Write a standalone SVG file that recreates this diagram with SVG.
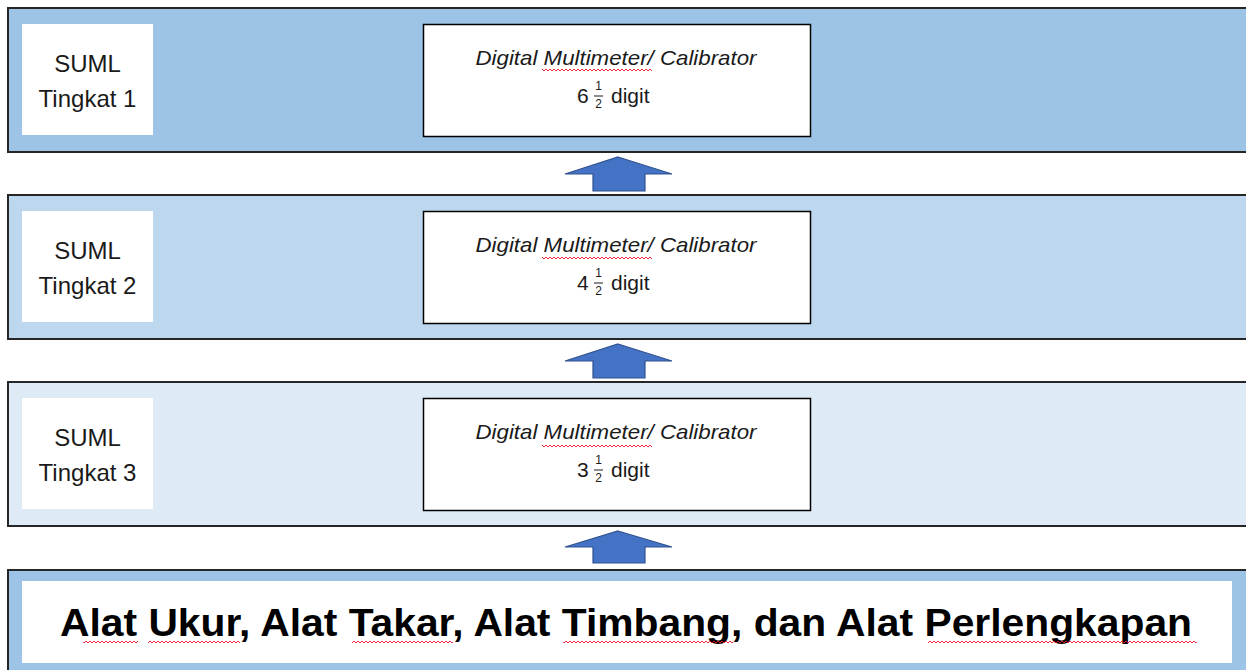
<svg xmlns="http://www.w3.org/2000/svg" width="1246" height="670" viewBox="0 0 1246 670">
  <style>
    .band { stroke: #262626; stroke-width: 2; }
    .lvl1 { fill: #9dc3e6; }
    .lvl2 { fill: #bdd7ee; }
    .lvl3 { fill: #deebf7; }
    .label { fill: #ffffff; }
    .card { fill: #ffffff; stroke: #000000; stroke-width: 1.5; }
    .t { font-family: "Liberation Sans", Arial, sans-serif; fill: #1a1a1a; }
    .suml { font-size: 24px; text-anchor: middle; }
    .dev { font-size: 21px; font-style: italic; text-anchor: middle; }
    .num { font-size: 21px; }
    .frac { font-size: 12px; text-anchor: middle; }
    .base { font-size: 38px; font-weight: bold; text-anchor: middle; fill: #000000; }
    .arrow { fill: #4472c4; stroke: #2f528f; stroke-width: 1.2; }
    .wave { fill: url(#squiggle); }
  </style>
  <defs>
    <pattern id="squiggle" patternUnits="userSpaceOnUse" x="0" y="0" width="4" height="4">
      <path d="M0,3 L2,1 L4,3" fill="none" stroke="#e81123" stroke-width="0.9"/>
    </pattern>
  </defs>

  <rect width="1246" height="670" fill="#ffffff"/>

  <!-- Level 1 -->
  <g id="suml-tingkat-1">
    <rect class="band lvl1" x="8" y="8" width="1250" height="144"/>
    <rect class="label" x="22" y="24" width="131" height="111"/>
    <text class="t suml" x="87.5" y="72">SUML</text>
    <text class="t suml" x="87.5" y="107">Tingkat 1</text>
    <rect class="card" x="423.5" y="24.5" width="387" height="112"/>
    <text class="t dev" x="616" y="65" textLength="281" lengthAdjust="spacingAndGlyphs">Digital Multimeter/ Calibrator</text>
    <rect class="wave" x="542" y="68" width="110" height="4"/>
    <text class="t num" x="577" y="103">6</text>
    <text class="t frac" x="598.5" y="90">1</text>
    <line x1="594" y1="96" x2="603" y2="96" stroke="#1a1a1a" stroke-width="1"/>
    <text class="t frac" x="598.5" y="108">2</text>
    <text class="t num" x="611" y="103">digit</text>
  </g>

  <!-- Level 2 -->
  <g id="suml-tingkat-2">
    <rect class="band lvl2" x="8" y="195" width="1250" height="144"/>
    <rect class="label" x="22" y="211" width="131" height="111"/>
    <text class="t suml" x="87.5" y="259">SUML</text>
    <text class="t suml" x="87.5" y="294">Tingkat 2</text>
    <rect class="card" x="423.5" y="211.5" width="387" height="112"/>
    <text class="t dev" x="616" y="252" textLength="281" lengthAdjust="spacingAndGlyphs">Digital Multimeter/ Calibrator</text>
    <rect class="wave" x="542" y="256" width="110" height="4"/>
    <text class="t num" x="577" y="290">4</text>
    <text class="t frac" x="598.5" y="277">1</text>
    <line x1="594" y1="283" x2="603" y2="283" stroke="#1a1a1a" stroke-width="1"/>
    <text class="t frac" x="598.5" y="295">2</text>
    <text class="t num" x="611" y="290">digit</text>
  </g>

  <!-- Level 3 -->
  <g id="suml-tingkat-3">
    <rect class="band lvl3" x="8" y="382" width="1250" height="144"/>
    <rect class="label" x="22" y="398" width="131" height="111"/>
    <text class="t suml" x="87.5" y="446">SUML</text>
    <text class="t suml" x="87.5" y="481">Tingkat 3</text>
    <rect class="card" x="423.5" y="398.5" width="387" height="112"/>
    <text class="t dev" x="616" y="439" textLength="281" lengthAdjust="spacingAndGlyphs">Digital Multimeter/ Calibrator</text>
    <rect class="wave" x="542" y="444" width="110" height="4"/>
    <text class="t num" x="577" y="477">3</text>
    <text class="t frac" x="598.5" y="464">1</text>
    <line x1="594" y1="470" x2="603" y2="470" stroke="#1a1a1a" stroke-width="1"/>
    <text class="t frac" x="598.5" y="482">2</text>
    <text class="t num" x="611" y="477">digit</text>
  </g>

  <!-- Base level: instruments -->
  <g id="alat-ukur">
    <rect class="band lvl1" x="8" y="570" width="1250" height="120"/>
    <rect class="label" x="22" y="581" width="1210" height="82"/>
    <text class="t base" x="626" y="636" textLength="1132" lengthAdjust="spacingAndGlyphs">Alat Ukur, Alat Takar, Alat Timbang, dan Alat Perlengkapan</text>
    <rect class="wave" x="83" y="640" width="55" height="4"/>
    <rect class="wave" x="148" y="640" width="92" height="4"/>
    <rect class="wave" x="352" y="640" width="101" height="4"/>
    <rect class="wave" x="563" y="640" width="170" height="4"/>
    <rect class="wave" x="928" y="640" width="269" height="4"/>
  </g>

  <!-- Upward arrows between levels -->
  <g id="connectors">
    <polygon class="arrow" points="618,157 672,174 645,174 645,191 593,191 593,174 565,174"/>
    <polygon class="arrow" points="618,344 672,361 645,361 645,378 593,378 593,361 565,361"/>
    <polygon class="arrow" points="618,531 672,547 645,547 645,563 593,563 593,547 565,547"/>
  </g>
</svg>
